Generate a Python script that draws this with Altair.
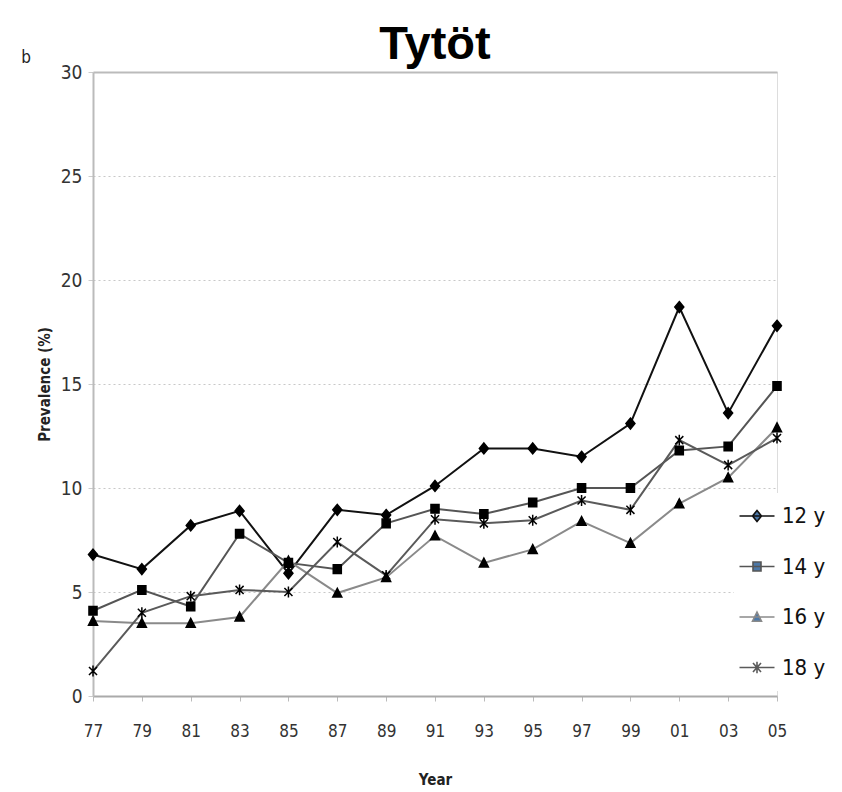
import altair as alt
import pandas as pd

years = ["77", "79", "81", "83", "85", "87", "89", "91", "93", "95", "97", "99", "01", "03", "05"]
series = ["12 y", "14 y", "16 y", "18 y"]
v12 = [6.8, 6.1, 8.2, 8.9, 5.9, 8.95, 8.7, 10.1, 11.9, 11.9, 11.5, 13.1, 18.7, 13.6, 17.8]
v14 = [4.1, 5.1, 4.3, 7.8, 6.4, 6.1, 8.3, 9.0, 8.75, 9.3, 10.0, 10.0, 11.8, 12.0, 14.9]
v16 = [3.6, 3.5, 3.5, 3.8, 6.5, 4.95, 5.7, 7.7, 6.4, 7.05, 8.4, 7.35, 9.25, 10.5, 12.9]
v18 = [1.2, 4.0, 4.8, 5.1, 5.0, 7.4, 5.8, 8.5, 8.3, 8.45, 9.4, 8.95, 12.3, 11.1, 12.4]

line_colors = ["#111111", "#555555", "#8a8a8a", "#5a5a5a"]
marker_paths = [
    "M0,-1.15L0.95,0L0,1.15L-0.95,0Z",
    "M-0.85,-0.9H0.85V0.9H-0.85Z",
    "M0,-1L0.95,0.85H-0.95Z",
    "M-0.85,-0.85L0.85,0.85M-0.85,0.85L0.85,-0.85M0,-1.15V1.15",
]
legend_paths = [
    "M-3.5,0H3.5M0,-1.1L0.9,0L0,1.1L-0.9,0Z",
    "M-3.5,0H3.5M-0.8,-0.9H0.8V0.9H-0.8Z",
    "M-3.5,0H3.5M0,-1L0.9,0.85H-0.9Z",
    "M-3.5,0H3.5M-0.8,-0.9L0.8,0.9M-0.8,0.9L0.8,-0.9M0,-1.15V1.15",
]

rows = []
for name, vals in zip(series, [v12, v14, v16, v18]):
    for yr, v in zip(years, vals):
        rows.append({"year": yr, "series": name, "value": v})
df = pd.DataFrame(rows)

FONT = "DejaVu Sans Condensed, Liberation Sans Narrow, Arial Narrow, sans-serif"

x_enc = alt.X(
    "year:O",
    sort=years,
    scale=alt.Scale(type="point", padding=0),
    axis=alt.Axis(
        title="Year", titleFont=FONT, titleFontSize=15, titleFontWeight="bold",
        titleColor="#222", titleY=76, titleBaseline="top",
        labelAngle=0, labelFont=FONT, labelFontSize=17, labelColor="#333",
        labelPadding=22, tickSize=5, tickColor="#bbbbbb",
        domainColor="#aaaaaa", domainWidth=2, grid=False,
    ),
)
y_enc = alt.Y(
    "value:Q",
    scale=alt.Scale(domain=[0, 30], nice=False),
    axis=alt.Axis(
        title="Prevalence (%)", titleFont=FONT, titleFontSize=15, titleFontWeight="bold",
        titleColor="#222", titlePadding=8,
        values=[0, 5, 10, 15, 20, 25, 30], labelFont=FONT, labelFontSize=19,
        labelColor="#333", labelPadding=6, tickSize=5, tickColor="#cccccc",
        domainColor="#bbbbbb", domainWidth=2,
        grid=True,
        gridColor=alt.condition("datum.value == 30", alt.value("#bbbbbb"), alt.value("#c8c8c8")),
        gridDash=alt.condition("datum.value == 30", alt.value([]), alt.value([2, 3])),
        gridWidth=alt.condition("datum.value == 30", alt.value(2), alt.value(1.2)),
    ),
)

base = alt.Chart(df)

lines = base.mark_line(strokeWidth=2).encode(
    x=x_enc, y=y_enc,
    color=alt.Color("series:N", scale=alt.Scale(domain=series, range=line_colors), legend=None),
    detail="series:N",
)

points = base.mark_point(filled=True, fill="black", stroke="black", strokeWidth=1.5, opacity=1, size=90).encode(
    x=x_enc, y=y_enc,
    shape=alt.Shape("series:N", scale=alt.Scale(domain=series, range=marker_paths), legend=None),
)

legend_params = dict(
    title=None, orient="none", legendX=641, legendY=421, direction="vertical",
    labelFont=FONT, labelFontSize=22, labelColor="#111", labelOffset=14,
    rowPadding=28.5, symbolSize=100, symbolFillColor="black",
    symbolStrokeWidth=1.6, padding=12, fillColor="white",
)

legend_layer = base.transform_filter("datum.value < 0").mark_point(
    filled=True, strokeWidth=1.6, size=100, opacity=1
).encode(
    x=x_enc, y=y_enc,
    shape=alt.Shape(
        "series:N",
        scale=alt.Scale(domain=series, range=legend_paths),
        legend=alt.Legend(**legend_params),
    ),
    stroke=alt.Stroke(
        "series:N",
        scale=alt.Scale(domain=series, range=line_colors),
        legend=alt.Legend(**legend_params),
    ),
)

label_b = alt.Chart(pd.DataFrame({"t": ["b"]})).mark_text(
    font=FONT, fontSize=17, color="#222", align="center", baseline="middle"
).encode(text="t:N", x=alt.value(-67), y=alt.value(-14))

chart = alt.layer(lines, points, legend_layer, label_b).resolve_scale(
    shape="independent", stroke="independent"
).properties(
    width=684,
    height=624,
    title=alt.TitleParams(
        "Tytöt", font="Liberation Sans, Arial, sans-serif", fontSize=47,
        fontWeight="bold", color="#000", anchor="middle", offset=6, dy=26,
    ),
    autosize=alt.AutoSizeParams(type="none"),
    padding={"left": 85, "top": 64, "right": 57, "bottom": 96},
).configure_view(stroke="#d9d9d9", strokeWidth=2).configure(background="white")

chart.save("out.html", embed_options={"renderer": "svg", "actions": False})
